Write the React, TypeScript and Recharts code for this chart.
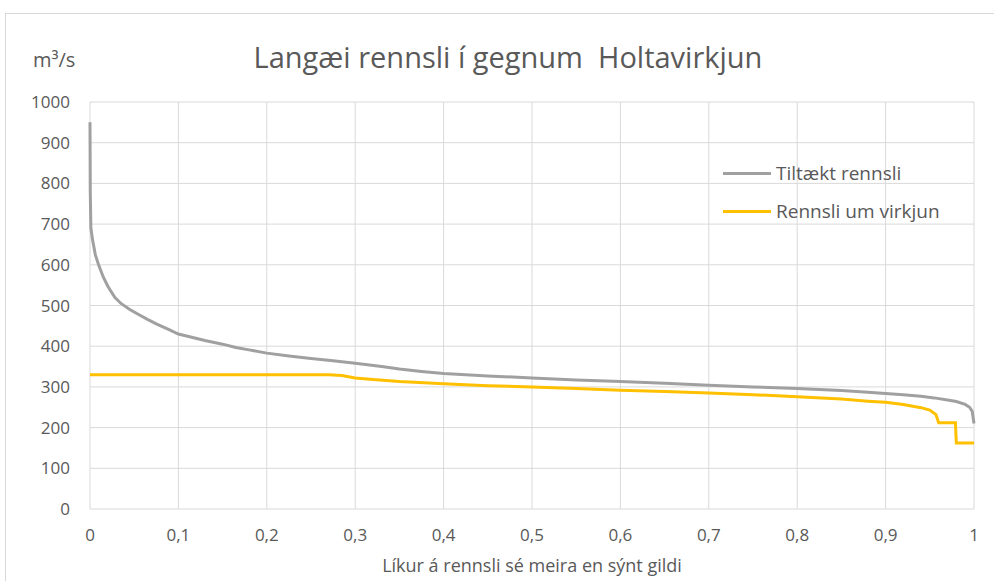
import React from 'react';
import { LineChart, Line, XAxis, YAxis, CartesianGrid } from 'recharts';

// Líkur (probability of exceedance) and flow in m3/s
const tiltaektP = [
  0, 0.0003, 0.001, 0.003, 0.006, 0.01, 0.015, 0.02, 0.028, 0.035, 0.045, 0.055,
  0.065, 0.075, 0.09, 0.1, 0.115, 0.13, 0.15, 0.165, 0.18, 0.2, 0.225, 0.25,
  0.275, 0.3, 0.33, 0.35, 0.375, 0.4, 0.45, 0.5, 0.55, 0.6, 0.65, 0.7, 0.75,
  0.8, 0.85, 0.88, 0.9, 0.92, 0.94, 0.955, 0.97, 0.98, 0.99, 0.995, 0.998, 1,
];
const tiltaektQ = [
  950, 780, 690, 660, 625, 598, 570, 548, 520, 505, 490, 478, 466, 455, 440,
  430, 422, 414, 405, 397, 391, 383, 376, 370, 364, 358, 350, 344, 338, 333,
  327, 322, 317, 313, 309, 304, 300, 296, 291, 287, 284, 281, 277, 273, 268,
  264, 257, 250, 240, 210,
];

const virkjunP = [
  0, 0.1, 0.2, 0.27, 0.285, 0.3, 0.32, 0.35, 0.4, 0.45, 0.5, 0.55, 0.6, 0.65,
  0.7, 0.75, 0.8, 0.85, 0.88, 0.9, 0.92, 0.94, 0.95, 0.957, 0.96, 0.979, 0.98, 1,
];
const virkjunQ = [
  330, 330, 330, 330, 328, 322, 318, 313, 308, 303, 300, 296, 292, 289, 285,
  281, 276, 270, 265, 262, 257, 249, 243, 232, 212, 212, 162, 162,
];

const seriesNames = ['Tiltækt rennsli', 'Rennsli um virkjun'];
const xTicks = [0, 0.1, 0.2, 0.3, 0.4, 0.5, 0.6, 0.7, 0.8, 0.9, 1];
const yTicks = [0, 100, 200, 300, 400, 500, 600, 700, 800, 900, 1000];

const tiltaektData = tiltaektP.map((p, i) => ({ p, q: tiltaektQ[i] }));
const virkjunData = virkjunP.map((p, i) => ({ p, q: virkjunQ[i] }));

const FONT = '"Open Sans", sans-serif';
const TEXT = '#595959';
const GRAY = '#a0a0a0';
const YELLOW = '#ffc000';
const seriesColors = [GRAY, YELLOW];

const fmtX = (v: number) => String(Math.round(v * 10) / 10).replace('.', ',');

export default function App() {
  return (
    <div
      style={{
        position: 'absolute',
        left: 0,
        top: 0,
        width: 994,
        height: 581,
        overflow: 'hidden',
        background: '#fff',
        fontFamily: FONT,
      }}
    >
      <div
        style={{
          position: 'absolute',
          left: 5,
          top: 13,
          width: 1000,
          height: 600,
          border: '1px solid #d9d9d9',
        }}
      />
      <div
        style={{
          position: 'absolute',
          left: 0,
          width: 994,
          top: 37,
          textAlign: 'center',
          paddingLeft: 22,
          boxSizing: 'border-box',
          fontSize: 29,
          color: TEXT,
          whiteSpace: 'pre',
        }}
      >
        {'Langæi rennsli í gegnum  Holtavirkjun'}
      </div>
      <div
        style={{
          position: 'absolute',
          left: 33,
          top: 46,
          fontSize: 20,
          color: TEXT,
        }}
      >
        m³/s
      </div>
      <div
        style={{
          position: 'absolute',
          left: 90,
          width: 884,
          top: 553,
          textAlign: 'center',
          fontSize: 18,
          lineHeight: '24px',
          color: TEXT,
          whiteSpace: 'nowrap',
        }}
      >
        Líkur á rennsli sé meira en sýnt gildi
      </div>
      <div style={{ position: 'absolute', left: 0, top: 0 }}>
        <LineChart
          width={994}
          height={581}
          margin={{ top: 102, right: 20, bottom: 0, left: 0 }}
        >
          <CartesianGrid stroke="#d9d9d9" />
          <XAxis
            dataKey="p"
            type="number"
            domain={[0, 1]}
            ticks={xTicks}
            tickFormatter={fmtX}
            axisLine={false}
            tickLine={false}
            tickSize={0}
            tickMargin={20}
            height={72}
            allowDuplicatedCategory={false}
            tick={{ fill: TEXT, fontSize: 17, fontFamily: FONT }}
          />
          <YAxis
            type="number"
            domain={[0, 1000]}
            ticks={yTicks}
            axisLine={false}
            tickLine={false}
            tickSize={0}
            tickMargin={20}
            width={90}
            tick={{ fill: TEXT, fontSize: 17, fontFamily: FONT }}
          />
          <Line
            data={tiltaektData}
            dataKey="q"
            name={seriesNames[0]}
            type="linear"
            stroke={GRAY}
            strokeWidth={3}
            dot={false}
            isAnimationActive={false}
          />
          <Line
            data={virkjunData}
            dataKey="q"
            name={seriesNames[1]}
            type="linear"
            stroke={YELLOW}
            strokeWidth={3}
            dot={false}
            isAnimationActive={false}
          />
        </LineChart>
      </div>
      <div
        style={{
          position: 'absolute',
          left: 723,
          top: 154,
          fontSize: 19,
          color: TEXT,
        }}
      >
        {seriesNames.map((name, i) => (
          <div
            key={name}
            style={{ display: 'flex', alignItems: 'center', height: 38 }}
          >
            <span
              style={{
                display: 'inline-block',
                width: 48,
                height: 3,
                background: seriesColors[i],
                marginRight: 5,
              }}
            />
            {name}
          </div>
        ))}
      </div>
    </div>
  );
}
